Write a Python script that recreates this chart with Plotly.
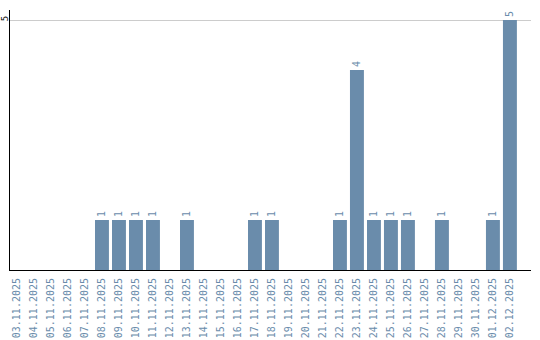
import plotly.graph_objects as go

dates = ["03.11.2025","04.11.2025","05.11.2025","06.11.2025","07.11.2025","08.11.2025",
         "09.11.2025","10.11.2025","11.11.2025","12.11.2025","13.11.2025","14.11.2025",
         "15.11.2025","16.11.2025","17.11.2025","18.11.2025","19.11.2025","20.11.2025",
         "21.11.2025","22.11.2025","23.11.2025","24.11.2025","25.11.2025","26.11.2025",
         "27.11.2025","28.11.2025","29.11.2025","30.11.2025","01.12.2025","02.12.2025"]
counts = [0,0,0,0,0,1,1,1,1,0,1,0,0,0,1,1,0,0,0,1,4,1,1,1,0,1,0,0,1,5]
labels = [str(c) if c > 0 else "" for c in counts]

blue = "#6a8cab"
font = dict(family="DejaVu Sans Mono", size=10, color=blue)

fig = go.Figure(go.Bar(
    x=dates, y=counts, marker_color=blue, marker_line_width=0,
    text=labels, textposition="outside", textangle=-90,
    textfont=font, cliponaxis=False, hoverinfo="skip",
))
fig.update_layout(
    width=540, height=340, margin=dict(l=10, r=9, t=10, b=70),
    paper_bgcolor="white", plot_bgcolor="white", showlegend=False,
    bargap=0.18, font=font,
    uniformtext=dict(minsize=10, mode="show"),
)
fig.update_xaxes(type="category", range=[-0.41, 30.24], tickangle=-90,
                 tickfont=font, showline=True, linecolor="black", linewidth=1,
                 showgrid=False, ticks="outside", ticklen=3, tickcolor="rgba(0,0,0,0)",
                 automargin=False)
fig.update_yaxes(range=[0, 5.2], tickvals=[5], ticktext=["5"], tickangle=-90,
                 tickfont=dict(family="DejaVu Sans Mono", size=9, color="black"),
                 showline=True, linecolor="black", linewidth=1,
                 showgrid=True, gridcolor="#cccccc", zeroline=False, ticks="",
                 ticklabelstandoff=-3, automargin=False)
fig.write_html("out.html")
